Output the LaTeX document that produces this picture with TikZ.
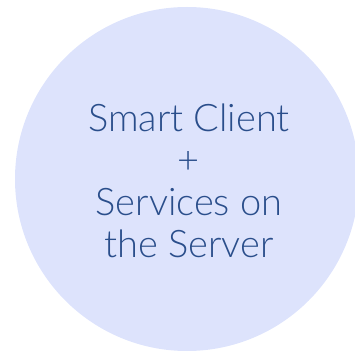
\documentclass[tikz,border=0pt]{standalone}
\usepackage{fontspec}
\setmainfont{Lato}[UprightFont=* Light]
\definecolor{circfill}{HTML}{DDE3FC}
\definecolor{txtblue}{HTML}{2A4E8B}
\begin{document}
\begin{tikzpicture}[x=1pt,y=1pt,
  bubble/.style={circle,fill=circfill,draw=none,minimum size=344pt,inner sep=0pt},
  label/.style={text=txtblue,align=center,font=\fontsize{38}{42}\selectfont}]
\useasboundingbox (0,0) rectangle (355,353);
\begin{scope}
\clip (0,0) rectangle (355,353);
\node[bubble] (c) at (187,174) {};
\end{scope}
\node[label] (t) at (189,172) {Smart Client\\+\\Services on\\the Server};
\end{tikzpicture}
\end{document}
